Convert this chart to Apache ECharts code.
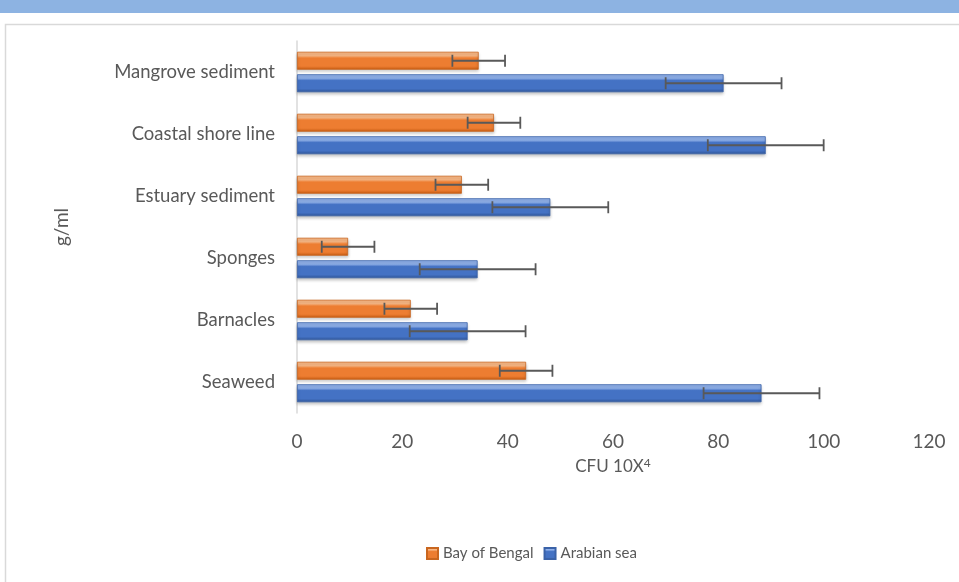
<!DOCTYPE html>
<html>
<head>
<meta charset="utf-8">
<script src="https://cdn.jsdelivr.net/npm/echarts@6/dist/echarts.min.js"></script>
<style>
html,body{margin:0;padding:0;background:#fff;}
#chart{width:959px;height:582px;}
</style>
</head>
<body>
<div id="chart"></div>
<script>
const categories = ['Seaweed', 'Barnacles', 'Sponges', 'Estuary sediment', 'Coastal shore line', 'Mangrove sediment'];
const bayOfBengal = [43.5, 21.6, 9.7, 31.3, 37.4, 34.5];
const bayOfBengalErr = [5, 5, 5, 5, 5, 5];
const arabianSea = [88.2, 32.4, 34.3, 48.1, 89, 81];
const arabianSeaErr = [11, 11, 11, 11, 11, 11];
const xTicks = [0, 20, 40, 60, 80, 100, 120];

const FONT = 'Lato';
const TXT = '#595959';

function grad(light, base, dark) {
  return new echarts.graphic.LinearGradient(0, 0, 0, 1, [
    {offset: 0, color: light},
    {offset: 0.22, color: light},
    {offset: 0.35, color: base},
    {offset: 0.8, color: base},
    {offset: 1, color: dark}
  ]);
}

const chart = echarts.init(document.getElementById('chart'));

function errSeries(name, vals, errs, idx) {
  return {
    type: 'custom',
    name: name + ' err',
    z: 10,
    silent: true,
    data: vals.map((v, i) => [i, v - errs[i], v + errs[i]]),
    renderItem: function (params, api) {
      const ci = api.value(0);
      const lo = api.coord([api.value(1), ci]);
      const hi = api.coord([api.value(2), ci]);
      const barW = 18, gap = 4.5;
      // idx 0 = upper bar (Bay of Bengal), idx 1 = lower bar (Arabian sea)
      const off = idx === 0 ? -(gap / 2 + barW / 2) : (gap / 2 + barW / 2);
      const y = lo[1] + off;
      const h = 6;
      const st = {stroke: '#595959', lineWidth: 1.8};
      return {
        type: 'group',
        children: [
          {type: 'line', shape: {x1: lo[0], y1: y, x2: hi[0], y2: y}, style: st},
          {type: 'line', shape: {x1: lo[0], y1: y - h, x2: lo[0], y2: y + h}, style: st},
          {type: 'line', shape: {x1: hi[0], y1: y - h, x2: hi[0], y2: y + h}, style: st}
        ]
      };
    }
  };
}

const option = {
  animation: false,
  backgroundColor: '#fff',
  graphic: [
    {type: 'rect', shape: {x: 0, y: 0, width: 959, height: 13}, style: {fill: '#8db3e2'}, z: -1},
    {type: 'rect', shape: {x: 5.5, y: 24.5, width: 1000, height: 700}, style: {fill: 'none', stroke: '#d9d9d9', lineWidth: 1.5}, z: -1}
  ],
  grid: {left: 297, right: 30, top: 41, bottom: 169},
  legend: {
    bottom: 16,
    left: 421,
    itemWidth: 11,
    itemHeight: 11,
    itemGap: 10,
    icon: 'rect',
    data: ['Bay of Bengal', 'Arabian sea'],
    textStyle: {fontFamily: FONT, fontSize: 15, color: TXT}
  },
  xAxis: {
    type: 'value',
    min: 0,
    max: 120,
    interval: 20,
    splitLine: {show: false},
    axisLine: {show: false},
    axisTick: {show: false},
    axisLabel: {
      margin: 19,
      fontFamily: FONT, fontSize: 19, color: TXT,
      formatter: function (v) { return xTicks.indexOf(v) >= 0 ? String(v) : ''; }
    },
    name: '{a|CFU 10X}{b|4}',
    nameLocation: 'middle',
    nameGap: 44,
    nameTextStyle: {
      rich: {
        a: {fontFamily: FONT, fontSize: 17, color: TXT},
        b: {fontFamily: FONT, fontSize: 12, color: TXT, verticalAlign: 'top', padding: [0, 0, 8, 0]}
      }
    }
  },
  yAxis: {
    type: 'category',
    data: categories,
    axisLine: {show: true, lineStyle: {color: '#d9d9d9', width: 1.5}},
    axisTick: {show: false},
    axisLabel: {margin: 22, fontFamily: FONT, fontSize: 18.5, color: TXT},
    name: 'g/ml',
    nameLocation: 'middle',
    nameRotate: 90,
    nameGap: 226,
    nameTextStyle: {fontFamily: FONT, fontSize: 19, color: TXT}
  },
  series: [
    {
      name: 'Bay of Bengal',
      type: 'bar',
      data: bayOfBengal,
      barWidth: 18,
      barGap: '25%',
      itemStyle: {
        color: grad('#f8b784', '#ed7d31', '#c55a11'),
        borderColor: '#c9661f', borderWidth: 0.8,
        shadowColor: 'rgba(0,0,0,0.25)', shadowBlur: 3, shadowOffsetY: 2
      }
    },
    {
      name: 'Arabian sea',
      type: 'bar',
      data: arabianSea,
      barWidth: 18,
      barGap: '25%',
      itemStyle: {
        color: grad('#8fb0ea', '#4472c4', '#2f5597'),
        borderColor: '#3a62a8', borderWidth: 0.8,
        shadowColor: 'rgba(0,0,0,0.25)', shadowBlur: 3, shadowOffsetY: 2
      }
    },
    errSeries('Bay of Bengal', bayOfBengal, bayOfBengalErr, 0),
    errSeries('Arabian sea', arabianSea, arabianSeaErr, 1)
  ]
};
chart.setOption(option);
</script>
</body>
</html>
